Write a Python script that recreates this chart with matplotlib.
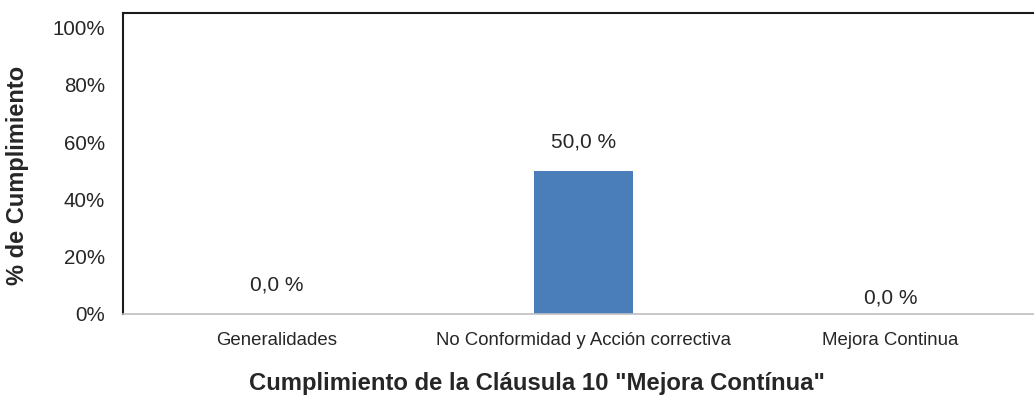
import matplotlib
matplotlib.use("Agg")
import matplotlib.pyplot as plt

# chart data
categories = ["Generalidades", "No Conformidad y Acción correctiva", "Mejora Continua"]
values = [0.0, 50.0, 0.0]
value_labels = ["0,0 %", "50,0 %", "0,0 %"]
yticks = [0, 20, 40, 60, 80, 100]
ytick_labels = ["0%", "20%", "40%", "60%", "80%", "100%"]

label_lift = [10, 10, 5.6]  # where the data labels sit above each bar

plt.rcParams['font.family'] = ['Liberation Sans', 'DejaVu Sans']
text_col = '#262626'

W, H = 1034, 419
fig = plt.figure(figsize=(W / 100, H / 100), dpi=100)
ax = fig.add_axes([123 / W, 1 - 313.5 / H, (1044 - 123) / W, 300.5 / H])

x = range(len(categories))
ax.bar(x, values, width=0.32, color='#4a7ebb')
for i, v in enumerate(values):
    ax.text(i, v + label_lift[i], value_labels[i], ha='center', va='center',
            fontsize=15, color=text_col)

ax.set_xlim(-0.5, 2.5)
ax.set_ylim(0, 105.2)
ax.set_xticks(list(x))
ax.set_xticklabels(categories, fontsize=13.4, color=text_col)
ax.set_yticks(yticks)
ax.set_yticklabels(ytick_labels, fontsize=14.8, color=text_col)
ax.tick_params(length=0)
ax.tick_params(axis='x', pad=13)
ax.tick_params(axis='y', pad=13)

ax.spines['right'].set_visible(False)
ax.spines['left'].set_color('#1a1a1a')
ax.spines['left'].set_linewidth(1.5)
ax.spines['top'].set_color('#1a1a1a')
ax.spines['top'].set_linewidth(1.5)
ax.spines['bottom'].set_color('#bfbfbf')
ax.spines['bottom'].set_linewidth(1.2)

fig.text(18 / W, 1 - 175 / H, "% de Cumplimiento", rotation=90, ha='center', va='center',
         fontsize=17, fontweight='bold', color=text_col)
fig.text(537 / W, 1 - 383 / H, 'Cumplimiento de la Cláusula 10 "Mejora Contínua"',
         ha='center', va='center', fontsize=17.2, fontweight='bold', color=text_col)

fig.savefig("out.png", dpi=100)
